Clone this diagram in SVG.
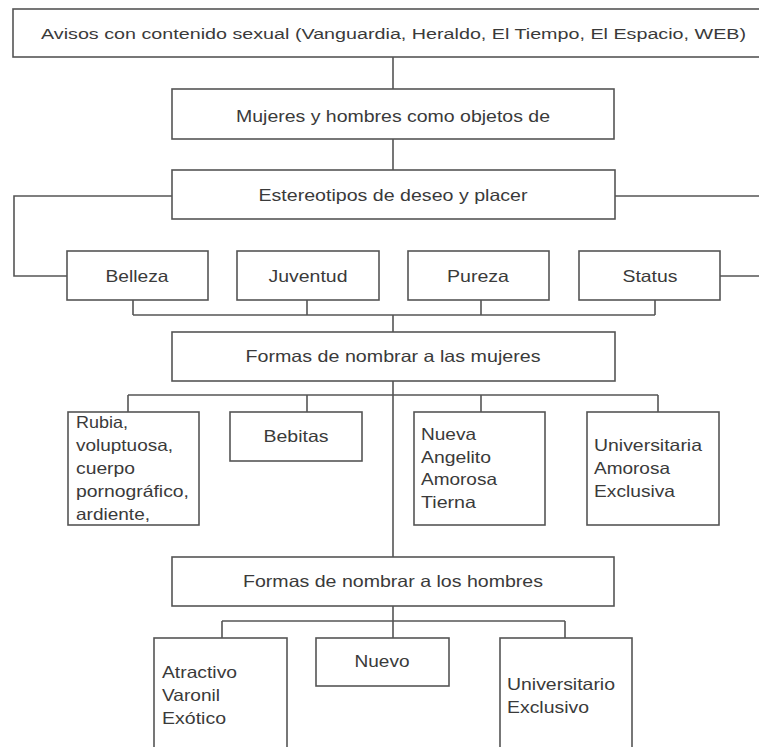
<svg xmlns="http://www.w3.org/2000/svg" width="759" height="747" viewBox="0 0 759 747">
<style>
.box{fill:#fff;stroke:#555;stroke-width:1.6}
.ln{fill:none;stroke:#555;stroke-width:1.6}
text{font-family:"Liberation Sans",Arial,sans-serif;font-size:16.5px;fill:#3a3a3a}
.c{text-anchor:middle}
.top{font-size:15.5px}
</style>
<rect width="759" height="747" fill="#fff"/>
<g id="connectors">
<path class="ln" d="M393 57V89M393 139V170M172 196H14V276H67M615 196H759M720 276H759"/>
<path class="ln" d="M133 300V315M307 300V315M481 300V315M655 300V315M133 315H655M393 315V332"/>
<path class="ln" d="M393 381V557M128 395H658M128 395V412M307 395V412M481 395V412M658 395V412"/>
<path class="ln" d="M393 606V638M222 621H565M222 621V638M565 621V638"/>
</g>
<g id="n-avisos"><rect class="box" x="13" y="9" width="760" height="48"/><text class="top" x="41" y="39" textLength="705" lengthAdjust="spacingAndGlyphs">Avisos con contenido sexual (Vanguardia, Heraldo, El Tiempo, El Espacio, WEB)</text></g>
<g id="n-objetos"><rect class="box" x="172" y="89" width="442" height="50"/><text class="c" x="393" y="122" textLength="314" lengthAdjust="spacingAndGlyphs">Mujeres y hombres como objetos de</text></g>
<g id="n-estereotipos"><rect class="box" x="172" y="170" width="443" height="49"/><text class="c" x="393" y="201" textLength="269" lengthAdjust="spacingAndGlyphs">Estereotipos de deseo y placer</text></g>
<g id="n-belleza"><rect class="box" x="67" y="251" width="141" height="49"/><text class="c" x="137" y="282" textLength="63" lengthAdjust="spacingAndGlyphs">Belleza</text></g>
<g id="n-juventud"><rect class="box" x="237" y="251" width="142" height="49"/><text class="c" x="308" y="282" textLength="79" lengthAdjust="spacingAndGlyphs">Juventud</text></g>
<g id="n-pureza"><rect class="box" x="408" y="251" width="141" height="49"/><text class="c" x="478" y="282" textLength="62" lengthAdjust="spacingAndGlyphs">Pureza</text></g>
<g id="n-status"><rect class="box" x="579" y="251" width="141" height="49"/><text class="c" x="650" y="282" textLength="55" lengthAdjust="spacingAndGlyphs">Status</text></g>
<g id="n-mujeres"><rect class="box" x="172" y="332" width="443" height="49"/><text class="c" x="393" y="362" textLength="295" lengthAdjust="spacingAndGlyphs">Formas de nombrar a las mujeres</text></g>
<g id="n-rubia"><rect class="box" x="68" y="412" width="131" height="113"/>
<text x="76" y="428" textLength="52" lengthAdjust="spacingAndGlyphs">Rubia,</text>
<text x="76" y="451" textLength="97" lengthAdjust="spacingAndGlyphs">voluptuosa,</text>
<text x="76" y="474" textLength="59" lengthAdjust="spacingAndGlyphs">cuerpo</text>
<text x="76" y="497" textLength="113" lengthAdjust="spacingAndGlyphs">pornográfico,</text>
<text x="76" y="520" textLength="74" lengthAdjust="spacingAndGlyphs">ardiente,</text></g>
<g id="n-bebitas"><rect class="box" x="230" y="412" width="132" height="49"/><text class="c" x="296" y="442" textLength="65" lengthAdjust="spacingAndGlyphs">Bebitas</text></g>
<g id="n-nueva"><rect class="box" x="414" y="412" width="131" height="113"/>
<text x="421" y="440" textLength="55" lengthAdjust="spacingAndGlyphs">Nueva</text>
<text x="421" y="463" textLength="70" lengthAdjust="spacingAndGlyphs">Angelito</text>
<text x="421" y="485" textLength="76" lengthAdjust="spacingAndGlyphs">Amorosa</text>
<text x="421" y="508" textLength="55" lengthAdjust="spacingAndGlyphs">Tierna</text></g>
<g id="n-universitaria"><rect class="box" x="587" y="412" width="132" height="113"/>
<text x="594" y="451" textLength="108" lengthAdjust="spacingAndGlyphs">Universitaria</text>
<text x="594" y="474" textLength="76" lengthAdjust="spacingAndGlyphs">Amorosa</text>
<text x="594" y="497" textLength="81" lengthAdjust="spacingAndGlyphs">Exclusiva</text></g>
<g id="n-hombres"><rect class="box" x="172" y="557" width="442" height="49"/><text class="c" x="393" y="587" textLength="300" lengthAdjust="spacingAndGlyphs">Formas de nombrar a los hombres</text></g>
<g id="n-atractivo"><rect class="box" x="154" y="638" width="133" height="130"/>
<text x="162" y="678" textLength="75" lengthAdjust="spacingAndGlyphs">Atractivo</text>
<text x="162" y="701" textLength="58" lengthAdjust="spacingAndGlyphs">Varonil</text>
<text x="162" y="724" textLength="64" lengthAdjust="spacingAndGlyphs">Exótico</text></g>
<g id="n-nuevo"><rect class="box" x="316" y="638" width="133" height="48"/><text class="c" x="382" y="667" textLength="55" lengthAdjust="spacingAndGlyphs">Nuevo</text></g>
<g id="n-universitario"><rect class="box" x="500" y="638" width="132" height="130"/>
<text x="507" y="690" textLength="108" lengthAdjust="spacingAndGlyphs">Universitario</text>
<text x="507" y="713" textLength="82" lengthAdjust="spacingAndGlyphs">Exclusivo</text></g>
</svg>
